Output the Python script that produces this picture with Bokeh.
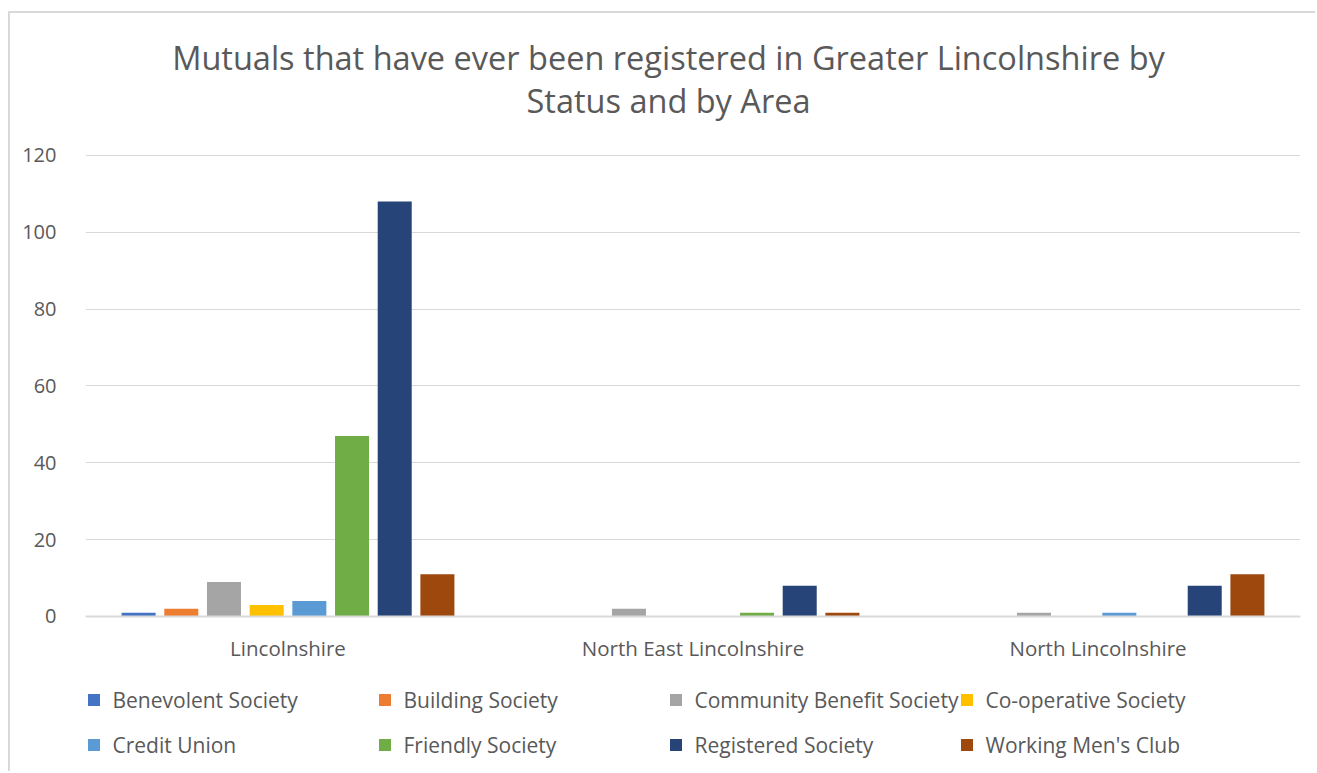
from bokeh.plotting import figure
from bokeh.models import (ColumnDataSource, Range1d, FixedTicker, Label, Legend, LegendItem, Span)
from bokeh.core.properties import value
from bokeh.transform import dodge
from bokeh.embed import file_html
from bokeh.resources import INLINE

areas = ["Lincolnshire", "North East Lincolnshire", "North Lincolnshire"]
series = ["Benevolent Society", "Building Society", "Community Benefit Society",
          "Co-operative Society", "Credit Union", "Friendly Society",
          "Registered Society", "Working Men's Club"]
benevolent = [1, 0, 0]
building = [2, 0, 0]
community_benefit = [9, 2, 1]
cooperative = [3, 0, 0]
credit_union = [4, 0, 1]
friendly = [47, 1, 0]
registered = [108, 8, 8]
working_mens = [11, 1, 11]
colors = ["#4472C4", "#ED7D31", "#A5A5A5", "#FFC000", "#5B9BD5", "#70AD47", "#264478", "#9E480E"]
y_ticks = [0, 20, 40, 60, 80, 100, 120]
title_lines = ["Mutuals that have ever been registered in Greater Lincolnshire by",
               "Status and by Area"]

values = [benevolent, building, community_benefit, cooperative, credit_union,
          friendly, registered, working_mens]

FONT = "Open Sans"
TXT = "#595959"
GRID = "#d9d9d9"

W, H = 1307, 760
p = figure(width=W, height=H, output_backend="svg", toolbar_location=None,
           x_range=Range1d(0, 3), y_range=Range1d(-40.87, 156.96),
           min_border_left=75, min_border_right=17, min_border_top=0,
           min_border_bottom=0)
p.styles = {"margin-left": "8px", "margin-top": "11px",
            "border-left": "2px solid #d9d9d9", "border-top": "2px solid #d9d9d9"}
p.outline_line_color = None
p.background_fill_color = "white"
p.border_fill_color = "white"

data = {"x": [i + 0.5 for i in range(len(areas))], "area": areas,
        "ly": [-8.33] * len(areas)}
for name, vals in zip(series, values):
    data[name] = vals
src = ColumnDataSource(data)

p.ygrid.grid_line_color = GRID
p.ygrid.grid_line_width = 1
p.ygrid.ticker = FixedTicker(ticks=y_ticks)
p.xgrid.grid_line_color = None

step = 0.1054
bw = 0.084
items = []
for j, (name, col) in enumerate(zip(series, colors)):
    r = p.vbar(x=dodge("x", (j - 3.5) * step, range=p.x_range), top=name, width=bw,
               bottom=0, source=src, fill_color=col, line_color=None)
    items.append(LegendItem(label=name, renderers=[r]))

p.add_layout(Span(location=0, dimension="width", line_color=GRID, line_width=2))

# category labels
p.text(x="x", y="ly", text="area", source=src, text_align="center",
       text_baseline="middle", text_font=value(FONT), text_font_size="20.5px",
       text_color=TXT)

p.xaxis.visible = False
p.yaxis.ticker = FixedTicker(ticks=y_ticks)
p.yaxis.axis_line_color = None
p.yaxis.major_tick_line_color = None
p.yaxis.minor_tick_line_color = None
p.yaxis.major_label_text_font = FONT
p.yaxis.major_label_text_font_size = "20px"
p.yaxis.major_label_text_color = TXT
p.yaxis.major_label_standoff = 23

# title lines
for txt, yy in zip(title_lines, [145.51, 134.32]):
    p.add_layout(Label(x=1.4395, y=yy, text=txt, text_align="center",
                       text_baseline="middle", text_font=FONT, text_font_size="32.5px",
                       text_color=TXT))

legend = Legend(items=items, ncols=4, orientation="horizontal",
                location=(0.5, 6), glyph_width=15, glyph_height=15,
                label_standoff=12, label_width=264, label_height=45, spacing=0,
                padding=0, margin=0, border_line_color=None,
                background_fill_alpha=0, label_text_font=FONT,
                label_text_font_size="21px", label_text_color=TXT)
p.add_layout(legend, "center")

open("out.html", "w").write(file_html(p, INLINE))
